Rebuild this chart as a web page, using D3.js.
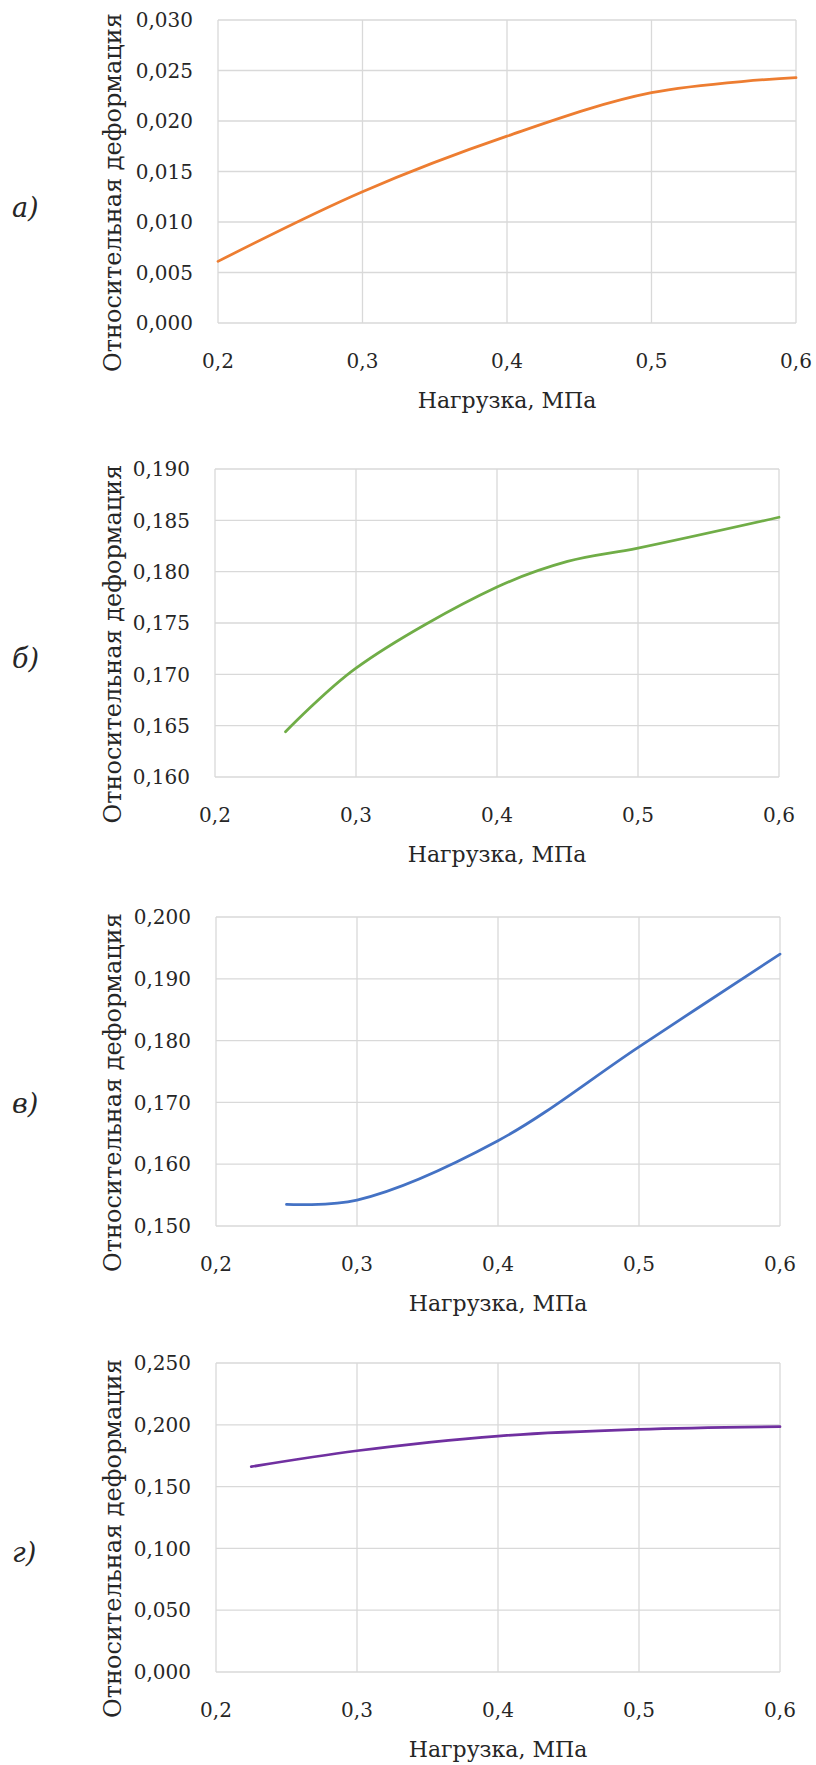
<!DOCTYPE html>
<html lang="ru">
<head>
    <meta charset="UTF-8">
    <script src="https://d3js.org/d3.v7.min.js"></script>
    <style>
        body { margin: 0; background: #fff; }
        text { font-family: "DejaVu Serif", serif; fill: #262626; }
    </style>
</head>
<body>
    <svg id="chart" width="816" height="1765"></svg>
    <script>
        // общие подписи
        const xTitle = "Нагрузка, МПа";
        const yTitle = "Относительная деформация";
        const xTicks = [0.2, 0.3, 0.4, 0.5, 0.6];

        // а)
        const yTicksA = [0, 0.005, 0.010, 0.015, 0.020, 0.025, 0.030];
        const loadA = [0.2, 0.3, 0.4, 0.5, 0.6];
        const strainA = [0.0061, 0.0130, 0.0185, 0.0228, 0.0243];

        // б)
        const yTicksB = [0.160, 0.165, 0.170, 0.175, 0.180, 0.185, 0.190];
        const loadB = [0.25, 0.3, 0.4, 0.45, 0.5, 0.6];
        const strainB = [0.1644, 0.1706, 0.1785, 0.1810, 0.1823, 0.1853];

        // в)
        const yTicksC = [0.150, 0.160, 0.170, 0.180, 0.190, 0.200];
        const loadC = [0.25, 0.3, 0.4, 0.5, 0.6];
        const strainC = [0.1535, 0.1542, 0.1638, 0.1790, 0.1940];

        // г)
        const yTicksD = [0, 0.050, 0.100, 0.150, 0.200, 0.250];
        const loadD = [0.225, 0.3, 0.4, 0.5, 0.6];
        const strainD = [0.1661, 0.1790, 0.1909, 0.1963, 0.1985];

        const svg = d3.select("#chart");

        const fmtY = d => d3.format(".3f")(d).replace(".", ",");
        const fmtX = d => d3.format(".1f")(d).replace(".", ",");

        function drawPanel(cfg) {
            const x = d3.scaleLinear().domain([0.2, 0.6]).range([cfg.left, cfg.right]);
            const y = d3.scaleLinear().domain(d3.extent(cfg.yTicks)).range([cfg.bottom, cfg.top]);
            const g = svg.append("g");

            // сетка
            g.selectAll(".hgrid").data(cfg.yTicks).enter().append("line")
                .attr("x1", cfg.left).attr("x2", cfg.right)
                .attr("y1", d => y(d)).attr("y2", d => y(d))
                .attr("stroke", "#d9d9d9").attr("stroke-width", 1.3);
            g.selectAll(".vgrid").data(xTicks).enter().append("line")
                .attr("x1", d => x(d)).attr("x2", d => x(d))
                .attr("y1", cfg.top).attr("y2", cfg.bottom)
                .attr("stroke", "#d9d9d9").attr("stroke-width", 1.3);

            // подписи осей
            g.selectAll(".ylab").data(cfg.yTicks).enter().append("text")
                .attr("x", cfg.left - 25)
                .attr("y", d => y(d))
                .attr("dy", "0.36em")
                .attr("text-anchor", "end")
                .style("font-size", "20px")
                .text(fmtY);
            g.selectAll(".xlab").data(xTicks).enter().append("text")
                .attr("x", d => x(d))
                .attr("y", cfg.bottom + 45)
                .attr("text-anchor", "middle")
                .style("font-size", "20px")
                .text(fmtX);

            g.append("text")
                .attr("x", (cfg.left + cfg.right) / 2)
                .attr("y", cfg.bottom + 85)
                .attr("text-anchor", "middle")
                .style("font-size", "22px")
                .text(xTitle);

            const cy = (cfg.top + cfg.bottom) / 2 + 21;
            g.append("text")
                .attr("transform", `translate(121,${cy}) rotate(-90)`)
                .attr("text-anchor", "middle")
                .style("font-size", "24px")
                .text(yTitle);

            g.append("text")
                .attr("x", 12)
                .attr("y", cfg.letterY)
                .style("font-size", "27px")
                .style("font-style", "italic")
                .text(cfg.letter);

            const line = d3.line()
                .x(d => x(d[0]))
                .y(d => y(d[1]))
                .curve(d3.curveCatmullRom.alpha(0.5));

            g.append("path")
                .datum(d3.zip(cfg.load, cfg.strain))
                .attr("fill", "none")
                .attr("stroke", cfg.color)
                .attr("stroke-width", 2.75)
                .attr("stroke-linecap", "round")
                .attr("d", line);
        }

        drawPanel({ left: 218, right: 796, top: 20, bottom: 323, yTicks: yTicksA,
            load: loadA, strain: strainA, color: "#ED7D31", letter: "а)", letterY: 217 });
        drawPanel({ left: 215, right: 779, top: 469, bottom: 777, yTicks: yTicksB,
            load: loadB, strain: strainB, color: "#70AD47", letter: "б)", letterY: 668 });
        drawPanel({ left: 216, right: 780, top: 917, bottom: 1226, yTicks: yTicksC,
            load: loadC, strain: strainC, color: "#4472C4", letter: "в)", letterY: 1113 });
        drawPanel({ left: 216, right: 780, top: 1363, bottom: 1672, yTicks: yTicksD,
            load: loadD, strain: strainD, color: "#7030A0", letter: "г)", letterY: 1562 });
    </script>
</body>
</html>
